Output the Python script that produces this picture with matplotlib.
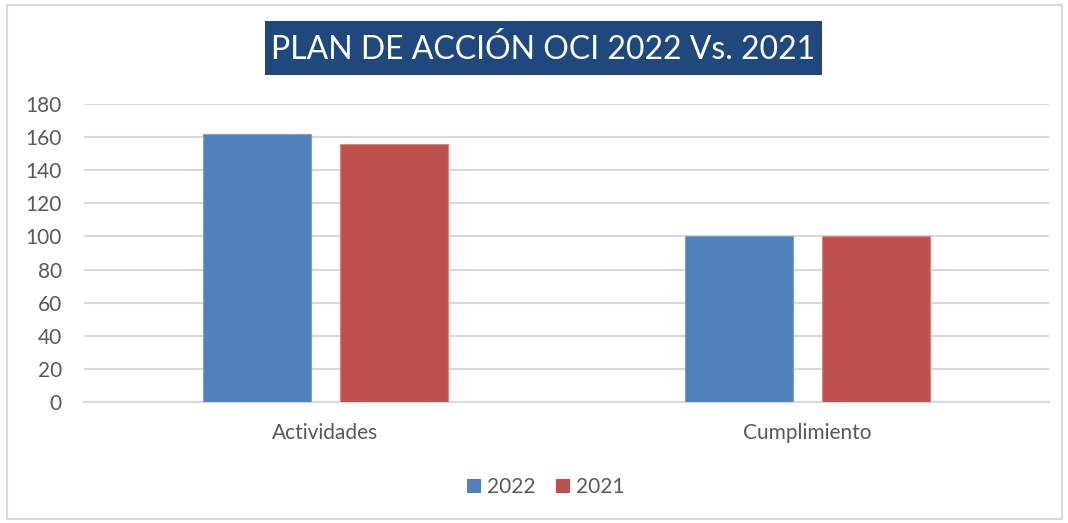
import matplotlib
matplotlib.use("Agg")
import matplotlib.pyplot as plt
from matplotlib.patches import Rectangle, Patch
import numpy as np

plt.rcParams['font.family'] = ['Lato', 'DejaVu Sans']

categories = ["Actividades", "Cumplimiento"]
series_names = ["2022", "2021"]
values_2022 = [162, 100]
values_2021 = [156, 100]
yticks = [0, 20, 40, 60, 80, 100, 120, 140, 160, 180]
title = "PLAN DE ACCIÓN OCI 2022 Vs. 2021"

blue = "#4F81BD"
red = "#C0504D"
W, H = 1068, 523
fig = plt.figure(figsize=(W / 100, H / 100), dpi=100)

# plot area in pixels: x 84..1049, y 104..402
ax = fig.add_axes([84 / W, 1 - 402 / H, (1049 - 84) / W, (402 - 104) / H])
x = np.arange(len(categories))
bw = 0.224
off = 0.142
ax.bar(x - off, values_2022, bw, color=blue, edgecolor="#7BA0CF", linewidth=0.8, zorder=3)
ax.bar(x + off, values_2021, bw, color=red, edgecolor="#D98886", linewidth=0.8, zorder=3)
ax.set_xlim(-0.5, len(categories) - 0.5)
ax.set_ylim(0, 180)
ax.set_yticks(yticks)
ax.set_yticklabels([str(t) for t in yticks])
ax.set_xticks(x)
ax.set_xticklabels(categories)
ax.grid(axis="y", color="#D9D9D9", linewidth=1.5, zorder=0)
ax.set_axisbelow(True)
for s in ["left", "right", "top"]:
    ax.spines[s].set_visible(False)
ax.spines["bottom"].set_color("#D9D9D9")
ax.spines["bottom"].set_linewidth(1.5)
ax.tick_params(axis="both", length=0, labelsize=15, labelcolor="#595959")
ax.tick_params(axis="y", pad=16)
ax.tick_params(axis="x", pad=15)

# title box
fig.patches.append(Rectangle((265 / W, 1 - 75 / H), (822 - 265) / W, (75 - 21) / H,
                             transform=fig.transFigure, facecolor="#1F497D",
                             edgecolor="none", zorder=1))
fig.text(543.5 / W, 1 - 49 / H, title, ha="center", va="center", fontsize=23,
         color="white", zorder=2)

handles = [Patch(facecolor=blue, label=series_names[0]), Patch(facecolor=red, label=series_names[1])]
leg = fig.legend(handles=handles, loc="center", bbox_to_anchor=(546 / W, 1 - 487 / H), ncol=2,
                 frameon=False, fontsize=15, handlelength=0.65, handleheight=0.65,
                 handletextpad=0.3, columnspacing=1.0)
for t in leg.get_texts():
    t.set_color("#595959")

# outer border
fig.patches.append(Rectangle((7 / W, 1 - 519 / H), (1062 - 7) / W, (519 - 5) / H,
                             transform=fig.transFigure, fill=False, edgecolor="#D9D9D9",
                             linewidth=1.5))

fig.savefig("out.png", dpi=100)
